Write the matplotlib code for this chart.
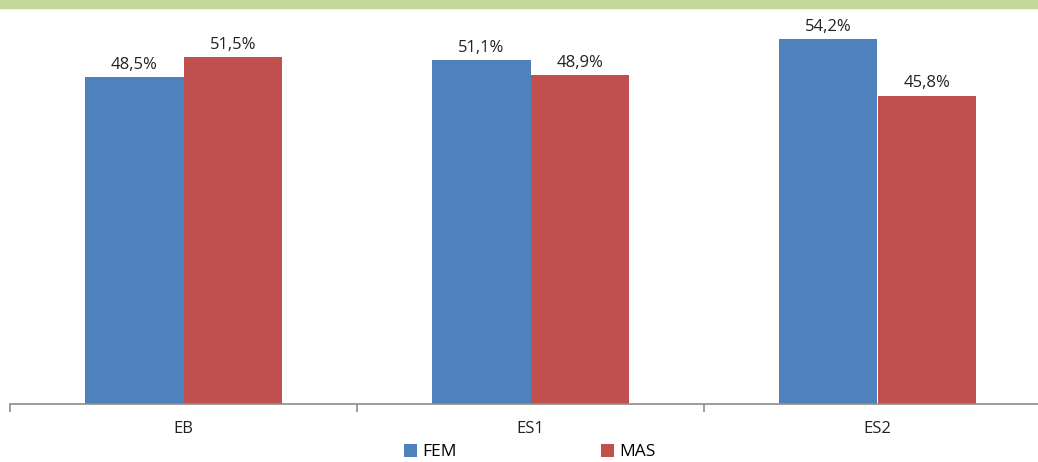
import matplotlib.pyplot as plt
import numpy as np
from matplotlib.patches import Rectangle

categories = ["EB", "ES1", "ES2"]
fem = [48.5, 51.1, 54.2]
mas = [51.5, 48.9, 45.8]
series_names = ["FEM", "MAS"]

BLUE = "#4F81BD"
RED = "#C0504D"

plt.rcParams["font.family"] = ["Open Sans", "DejaVu Sans"]

fig = plt.figure(figsize=(10.38, 4.62), dpi=100)
# axis spans 3 categories of ~347 px starting at x=10 px, extending past the right edge
ax = fig.add_axes([10 / 1038, 58 / 462, 1041 / 1038, 404 / 462])

x = np.arange(len(categories))
w = 0.285
b1 = ax.bar(x - w / 2, fem, w, color=BLUE, label=series_names[0], linewidth=0)
b2 = ax.bar(x + w / 2, mas, w, color=RED, label=series_names[1], linewidth=0)

for bars in (b1, b2):
    for rect in bars:
        h = rect.get_height()
        ax.annotate(f"{h:.1f}%".replace(".", ","),
                    (rect.get_x() + rect.get_width() / 2, h),
                    xytext=(0, 3), textcoords="offset points",
                    ha="center", va="bottom", fontsize=12, color="#222222")

ax.set_xlim(-0.5, 2.5)
ax.set_ylim(0, 60)
ax.set_yticks([])
for s in ("top", "right", "left"):
    ax.spines[s].set_visible(False)
ax.spines["bottom"].set_color("#8C8C8C")
ax.spines["bottom"].set_linewidth(1.2)

ax.set_xticks([-0.5, 0.5, 1.5, 2.5])
ax.set_xticklabels([])
ax.set_xticks(x, minor=True)
ax.set_xticklabels(categories, minor=True, fontsize=12, color="#222222")
ax.tick_params(axis="x", which="major", length=6, width=1.2, color="#8C8C8C", direction="out")
ax.tick_params(axis="x", which="minor", length=0, pad=12)

fig.legend(handles=[b1, b2], loc="center", bbox_to_anchor=(530 / 1038, 1 - 452 / 462),
           ncol=2, frameon=False, fontsize=12.5, handlelength=0.75, handleheight=0.75,
           handletextpad=0.3, columnspacing=8.3, borderaxespad=0)

# green band along the top
fig.patches.append(Rectangle((0, 1 - 8 / 462), 1, 8 / 462, transform=fig.transFigure,
                             color="#C4D79B", zorder=5))

fig.savefig("out.png", dpi=100)
